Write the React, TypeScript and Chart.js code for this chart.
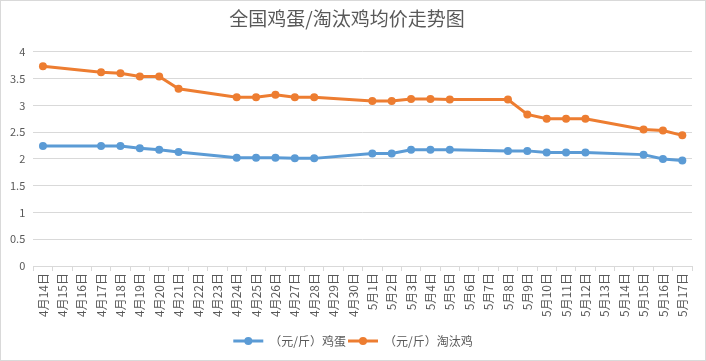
import React, { useEffect, useRef } from "react";
import { Chart, registerables } from "chart.js";

Chart.register(...registerables);

const title = "全国鸡蛋/淘汰鸡均价走势图";

const categories = [
  "4月14日", "4月15日", "4月16日", "4月17日", "4月18日", "4月19日", "4月20日", "4月21日",
  "4月22日", "4月23日", "4月24日", "4月25日", "4月26日", "4月27日", "4月28日", "4月29日",
  "4月30日", "5月1日", "5月2日", "5月3日", "5月4日", "5月5日", "5月6日", "5月7日",
  "5月8日", "5月9日", "5月10日", "5月11日", "5月12日", "5月13日", "5月14日", "5月15日",
  "5月16日", "5月17日",
];

const eggLabel = "（元/斤）鸡蛋";
const eggPrices = [
  2.24, null, null, 2.24, 2.24, 2.2, 2.17, 2.13,
  null, null, 2.02, 2.02, 2.02, 2.01, 2.01, null,
  null, 2.1, 2.1, 2.17, 2.17, 2.17, null, null,
  2.15, 2.15, 2.12, 2.12, 2.12, null, null, 2.08,
  2.0, 1.97,
];

const henLabel = "（元/斤）淘汰鸡";
const henPrices = [
  3.73, null, null, 3.62, 3.6, 3.54, 3.54, 3.31,
  null, null, 3.15, 3.15, 3.2, 3.15, 3.15, null,
  null, 3.08, 3.08, 3.12, 3.12, 3.11, null, null,
  3.11, 2.83, 2.75, 2.75, 2.75, null, null, 2.55,
  2.53, 2.44,
];

const yMin = 0;
const yMax = 4;
const yStep = 0.5;

const FONT = "'Noto Sans CJK SC', 'Noto Sans', sans-serif";
const TEXT = "#595959";
const GRID = "#d9d9d9";

const frameLegendPlugin = {
  id: "frameLegend",
  beforeDraw(chart: any) {
    const { ctx, width, height } = chart;
    ctx.save();
    ctx.fillStyle = "#ffffff";
    ctx.fillRect(0, 0, width, height);
    ctx.restore();
  },
  afterDraw(chart: any) {
    const { ctx, width, height } = chart;
    ctx.save();
    ctx.strokeStyle = GRID;
    ctx.lineWidth = 1;
    ctx.strokeRect(0.5, 0.5, width - 1, height - 1);

    ctx.font = `12px ${FONT}`;
    ctx.textBaseline = "middle";
    const lineLen = 30;
    const gapAfterLine = 6;
    const gapBetween = 2;
    const items = chart.data.datasets.map((ds: any) => ({
      label: ds.label,
      color: ds.borderColor,
      w: lineLen + gapAfterLine + ctx.measureText(ds.label).width,
    }));
    const total = items.reduce((s: number, it: any) => s + it.w, 0) + gapBetween * (items.length - 1);
    let x = width / 2 - total / 2;
    const y = 341;
    items.forEach((it: any) => {
      ctx.strokeStyle = it.color;
      ctx.lineWidth = 3;
      ctx.beginPath();
      ctx.moveTo(x, y);
      ctx.lineTo(x + lineLen, y);
      ctx.stroke();
      ctx.fillStyle = it.color;
      ctx.beginPath();
      ctx.arc(x + lineLen / 2, y, 4, 0, Math.PI * 2);
      ctx.fill();
      ctx.fillStyle = TEXT;
      ctx.textAlign = "left";
      ctx.fillText(it.label, x + lineLen + gapAfterLine, y);
      x += it.w + gapBetween;
    });
    ctx.restore();
  },
};

export default function App() {
  const ref = useRef<HTMLCanvasElement | null>(null);

  useEffect(() => {
    if (!ref.current) return;
    const chart = new Chart(ref.current, {
      type: "line",
      data: {
        labels: categories,
        datasets: [
          {
            label: eggLabel,
            data: eggPrices,
            borderColor: "#5B9BD5",
            backgroundColor: "#5B9BD5",
            borderWidth: 3,
            pointRadius: 4,
            pointBorderWidth: 0,
            pointBackgroundColor: "#5B9BD5",
            spanGaps: true,
            tension: 0,
          },
          {
            label: henLabel,
            data: henPrices,
            borderColor: "#ED7D31",
            backgroundColor: "#ED7D31",
            borderWidth: 3,
            pointRadius: 4,
            pointBorderWidth: 0,
            pointBackgroundColor: "#ED7D31",
            spanGaps: true,
            tension: 0,
          },
        ],
      },
      options: {
        animation: false,
        responsive: false,
        maintainAspectRatio: false,
        layout: { padding: { left: 2, right: 14, top: 0, bottom: 42 } },
        plugins: {
          legend: { display: false },
          tooltip: { enabled: false },
          title: {
            display: true,
            text: title,
            color: TEXT,
            font: { family: FONT, size: 19, weight: "normal" },
            padding: { top: 7, bottom: 22 },
          },
        },
        scales: {
          x: {
            type: "category",
            offset: true,
            grid: {
              offset: true,
              drawOnChartArea: false,
              drawTicks: true,
              tickLength: 5,
              color: GRID,
            },
            border: { color: GRID, width: 1 },
            ticks: {
              autoSkip: false,
              maxRotation: 90,
              minRotation: 90,
              color: TEXT,
              padding: 2,
              font: { family: FONT, size: 12 },
            },
          },
          y: {
            min: yMin,
            max: yMax,
            grid: { color: GRID, drawTicks: false },
            border: { display: false },
            ticks: {
              stepSize: yStep,
              color: TEXT,
              padding: 8,
              font: { family: FONT, size: 11 },
              callback: (v: any) => String(Number(v)),
            },
          },
        },
      },
      plugins: [frameLegendPlugin],
    });
    return () => chart.destroy();
  }, []);

  return (
    <div style={{ position: "absolute", left: 0, top: 0, width: 706, height: 361 }}>
      <canvas ref={ref} width={706} height={361} style={{ width: 706, height: 361, display: "block" }} />
    </div>
  );
}
